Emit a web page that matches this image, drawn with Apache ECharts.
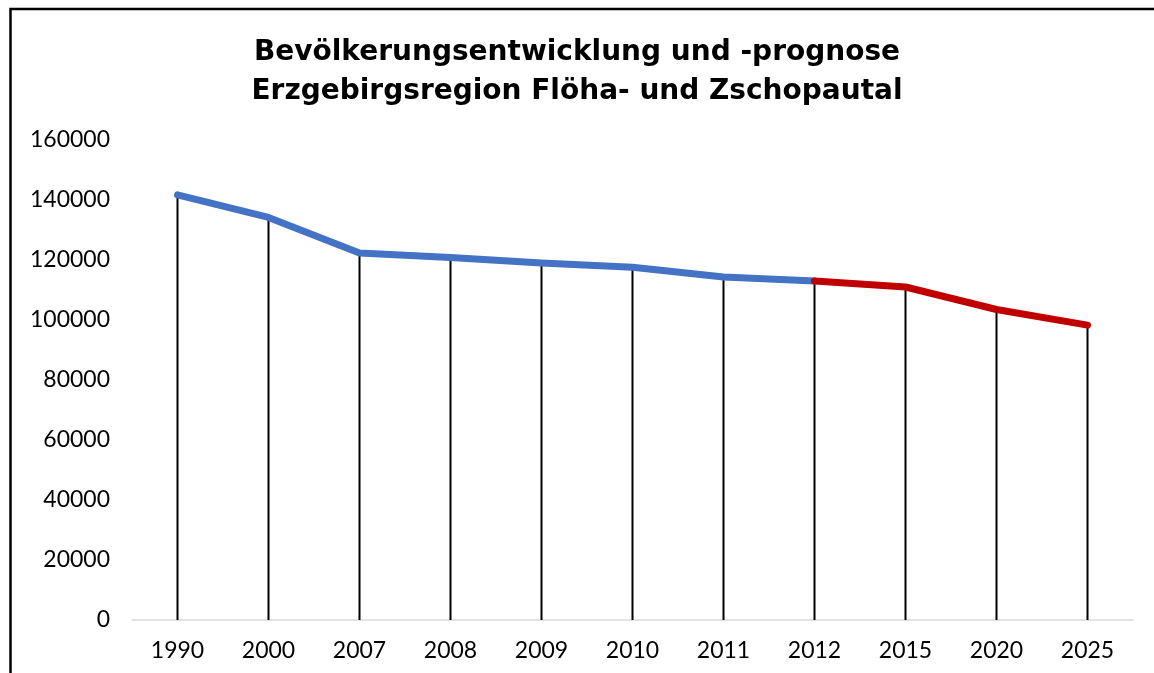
<!DOCTYPE html>
<html><head><meta charset="utf-8">
<script src="https://cdn.jsdelivr.net/npm/echarts@6/dist/echarts.min.js"></script>
<style>html,body{margin:0;padding:0;background:#fff}#c{width:1154px;height:673px}</style>
</head><body><div id="c"></div>
<script>
const categories = ['1990','2000','2007','2008','2009','2010','2011','2012','2015','2020','2025'];
const population = [141700, 134200, 122300, 120800, 119000, 117600, 114300, 113000, 111000, 103500, 98300];
const historicCount = 8; // 1990..2012 observed, 2012..2025 prognosis
const yTicks = {min: 0, max: 160000, interval: 20000};
const titleText = 'Bevölkerungsentwicklung und -prognose\nErzgebirgsregion Flöha- und Zschopautal';

const historic = population.map((v, i) => i < historicCount ? v : null);
const prognosis = population.map((v, i) => i >= historicCount - 1 ? v : null);
const font = 'Lato, "DejaVu Sans", sans-serif';
const titleFont = '"DejaVu Sans", sans-serif';

const chart = echarts.init(document.getElementById('c'), null, {renderer: 'canvas'});
chart.setOption({
  animation: false,
  backgroundColor: '#fff',
  title: {
    text: titleText, left: 'center', top: 28,
    textStyle: {fontFamily: titleFont, fontWeight: 'bold', fontSize: 28, lineHeight: 39, color: '#000'}
  },
  graphic: [{
    type: 'rect', shape: {x: 10.5, y: 9, width: 1300, height: 800},
    style: {fill: 'none', stroke: '#000', lineWidth: 2.5}, z: 100
  }],
  grid: {left: 132, right: 21, top: 140, bottom: 53, containLabel: false},
  xAxis: {
    type: 'category', data: categories, boundaryGap: true,
    axisLine: {show: true, lineStyle: {color: '#d9d9d9', width: 1.5}},
    axisTick: {show: false},
    axisLabel: {fontFamily: font, fontSize: 23, color: '#000', margin: 19}
  },
  yAxis: {
    type: 'value', min: yTicks.min, max: yTicks.max, interval: yTicks.interval,
    axisLine: {show: false}, axisTick: {show: false}, splitLine: {show: false},
    axisLabel: {fontFamily: font, fontSize: 23, color: '#000', margin: 22, formatter: v => String(v)}
  },
  series: [
    {type: 'bar', data: population, barWidth: 2, itemStyle: {color: '#000'}, z: 1, silent: true},
    {type: 'line', data: historic, symbol: 'none', connectNulls: false,
     lineStyle: {color: '#4472C4', width: 7, cap: 'round', join: 'round'}, z: 3},
    {type: 'line', data: prognosis, symbol: 'none', connectNulls: false,
     lineStyle: {color: '#C00000', width: 7, cap: 'round', join: 'round'}, z: 4}
  ]
});
</script></body></html>
